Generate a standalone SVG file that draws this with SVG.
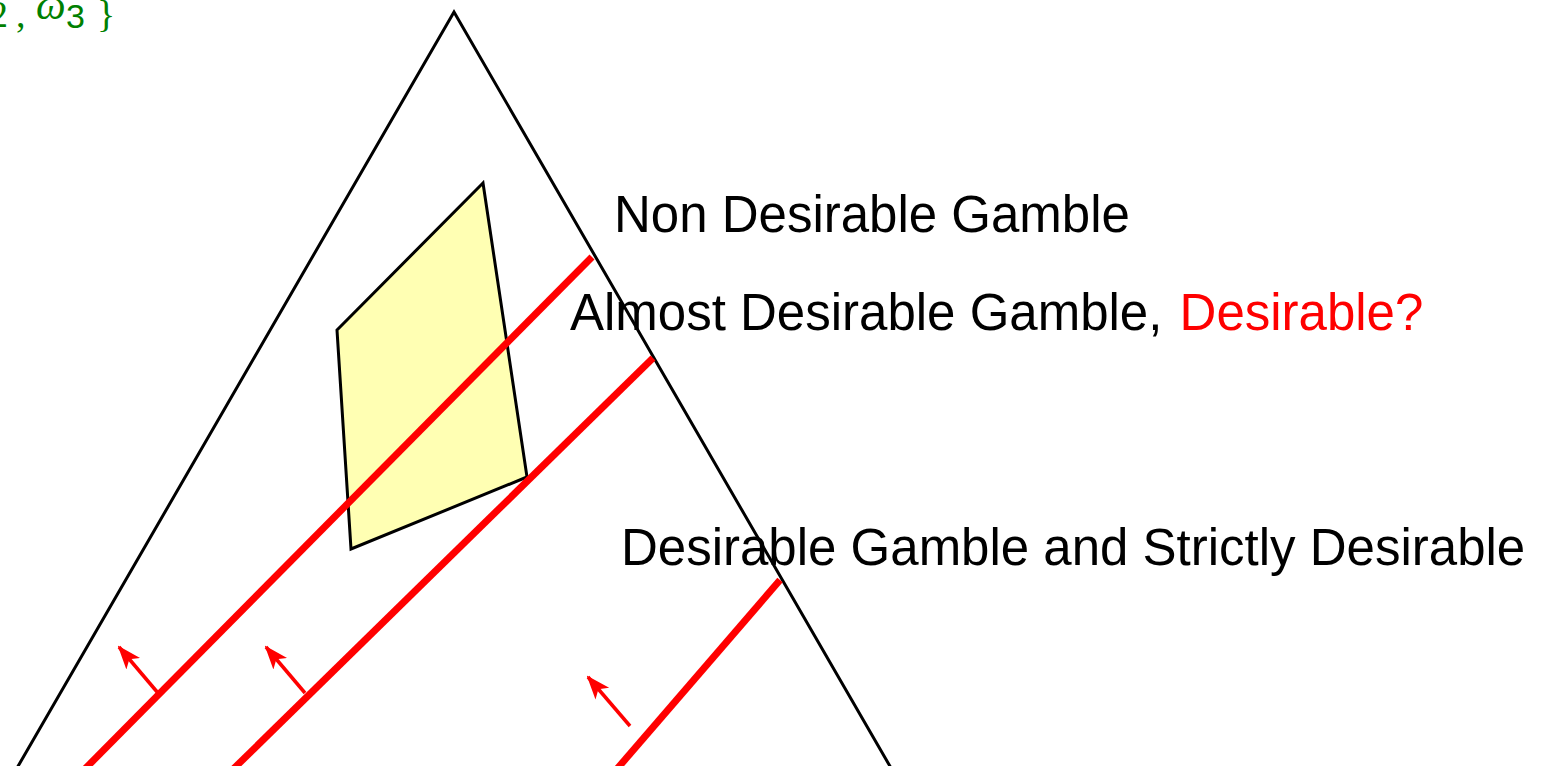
<svg xmlns="http://www.w3.org/2000/svg" width="1555" height="766" viewBox="0 0 1555 766">
<style>
.lbl{font-family:"Liberation Sans",Arial,sans-serif;font-size:51px;fill:#000}
.red{stroke:#ff0000;stroke-width:7;fill:none}
.arr{stroke:#ff0000;stroke-width:3.5;fill:none}
</style>
<defs>
<marker id="ah" markerWidth="24" markerHeight="24" viewBox="0 0 24 24" refX="22" refY="12" orient="auto" markerUnits="userSpaceOnUse">
<path d="M0,3 L24,12 L0,21 L6,12 Z" fill="#ff0000"/>
</marker>
</defs>
<rect width="1555" height="766" fill="#fff"/>
<g id="omega-label">
<text font-family="'Liberation Serif','DejaVu Serif',serif" font-size="38" fill="#008000"><tspan x="-11" y="27">2</tspan><tspan x="16" y="27">,</tspan><tspan x="36" y="19" font-style="italic" font-size="42">ω</tspan><tspan x="66" y="28" font-family="'Liberation Sans',sans-serif" font-size="34">3</tspan><tspan x="97" y="27">}</tspan></text>
</g>
<g id="triangle">
<path d="M-20,832 L454,12 L928,832" fill="none" stroke="#000" stroke-width="3"/>
</g>
<g id="polytope">
<polygon points="483,183 337,330 351,549 527,477" fill="#ffffb3" stroke="#000" stroke-width="3"/>
</g>
<g id="connectors">
<line class="red" x1="592" y1="257" x2="70" y2="784"/>
<line class="red" x1="653" y1="358" x2="218" y2="784"/>
<line class="red" x1="780" y1="580" x2="604" y2="784"/>
<line class="arr" x1="158" y1="693" x2="119" y2="647" marker-end="url(#ah)"/>
<line class="arr" x1="305" y1="693" x2="266" y2="647" marker-end="url(#ah)"/>
<line class="arr" x1="630" y1="726" x2="588" y2="677" marker-end="url(#ah)"/>
</g>
<g id="label-non">
<text class="lbl" x="614" y="232">Non Desirable Gamble</text>
</g>
<g id="label-almost">
<text class="lbl" x="570" y="330">Almost Desirable Gamble, <tspan dx="3" fill="#ff0000">Desirable?</tspan></text>
</g>
<g id="label-desirable">
<text class="lbl" x="621" y="565">Desirable Gamble and Strictly Desirable</text>
</g>
</svg>
